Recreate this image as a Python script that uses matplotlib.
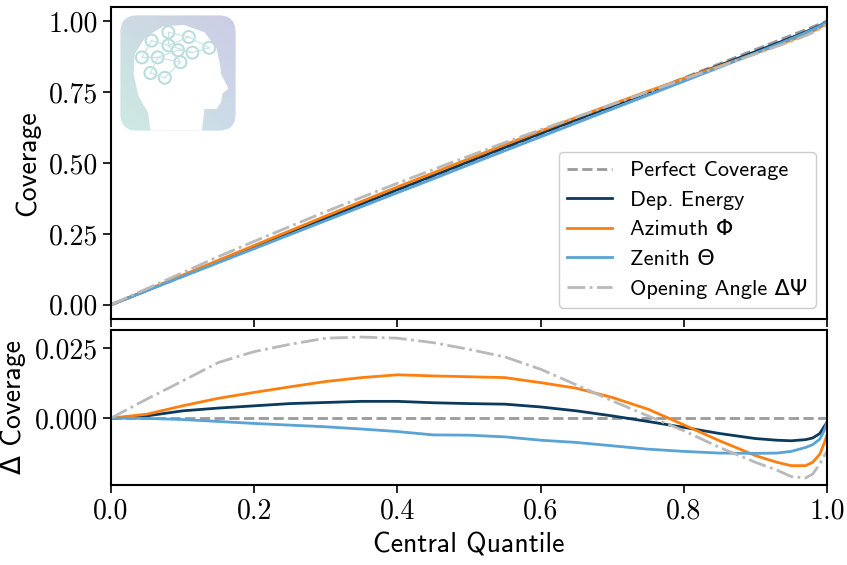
import numpy as np
import matplotlib
matplotlib.use("Agg")
import matplotlib.pyplot as plt
from matplotlib.patches import FancyBboxPatch, Polygon, Circle

plt.rcParams['mathtext.fontset'] = 'cm'
plt.rcParams['axes.formatter.use_mathtext'] = True

# ---------------- data ----------------
quantile = [0.0, 0.05, 0.10, 0.15, 0.20, 0.25, 0.30, 0.35, 0.40, 0.45, 0.50,
            0.55, 0.60, 0.65, 0.70, 0.75, 0.80, 0.85, 0.90, 0.93, 0.95,
            0.97, 0.98, 0.99, 0.996, 1.0]

delta_energy = [0.0, 0.0008, 0.0026, 0.0036, 0.0044, 0.0052, 0.0056, 0.0060,
                0.0060, 0.0055, 0.0052, 0.0050, 0.0040, 0.0026, 0.0008,
                -0.0012, -0.0033, -0.0055, -0.0073, -0.0079, -0.0081,
                -0.0077, -0.0071, -0.0055, -0.0030, -0.0015]

delta_azimuth = [0.0, 0.0014, 0.0044, 0.0071, 0.0092, 0.0112, 0.0131, 0.0145,
                 0.0155, 0.0151, 0.0148, 0.0145, 0.0127, 0.0107, 0.0074,
                 0.0032, -0.0024, -0.0081, -0.0134, -0.0158, -0.0170,
                 -0.0170, -0.0158, -0.0129, -0.0090, -0.0060]

delta_zenith = [0.0, -0.0001, -0.0005, -0.0012, -0.0019, -0.0025, -0.0031,
                -0.0039, -0.0048, -0.0060, -0.0061, -0.0067, -0.0079,
                -0.0087, -0.0099, -0.0111, -0.0119, -0.0125, -0.0126,
                -0.0125, -0.0119, -0.0105, -0.0095, -0.0075, -0.0045, -0.0015]

delta_opening = [0.0, 0.0068, 0.0133, 0.0199, 0.0238, 0.0264, 0.0286, 0.0290,
                 0.0286, 0.0270, 0.0246, 0.0219, 0.0175, 0.0119, 0.0062,
                 0.0008, -0.0045, -0.0105, -0.0158, -0.0186, -0.0209,
                 -0.0214, -0.0200, -0.0164, -0.0135, -0.0120]

labels = ['Perfect Coverage', 'Dep. Energy', 'Azimuth Φ', 'Zenith Θ',
          'Opening Angle ΔΨ']
colors = ['#9a9a9a', '#0b3a5c', '#ff7f0e', '#5aa3d5', '#b9b9b9']
styles = ['--', '-', '-', '-', '-.']

q = np.array(quantile)
deltas = [np.zeros_like(q), np.array(delta_energy), np.array(delta_azimuth),
          np.array(delta_zenith), np.array(delta_opening)]

SANS = ['cmss10', 'DejaVu Sans']
SERIF = 'cmr10'

L, R = 111 / 847, 827 / 847
fig = plt.figure(figsize=(8.47, 5.65), dpi=100)
ax1 = fig.add_axes([L, 0.4354, R - L, 0.9876 - 0.4354])
ax2 = fig.add_axes([L, 0.1416, R - L, 0.4159 - 0.1416], sharex=ax1)

for d, lab, c, ls in zip(deltas, labels, colors, styles):
    ax1.plot(q, q + d, ls, color=c, lw=2.0, label=lab)
    ax2.plot(q, d, ls, color=c, lw=2.0, label=lab)

ax1.set_xlim(0, 1)
ax1.set_yticks([0.0, 0.25, 0.5, 0.75, 1.0])
ax1.set_yticklabels(['0.00', '0.25', '0.50', '0.75', '1.00'])
ax2.set_yticks([0.0, 0.025])
ax2.set_yticklabels(['0.000', '0.025'])
ax2.set_xticks([0, 0.2, 0.4, 0.6, 0.8, 1.0])
ax2.set_xticklabels(['0.0', '0.2', '0.4', '0.6', '0.8', '1.0'])
plt.setp(ax1.get_xticklabels(), visible=False)

for ax in (ax1, ax2):
    ax.tick_params(direction='out', length=6, width=1.2, labelsize=20)
    for lab in ax.get_xticklabels() + ax.get_yticklabels():
        lab.set_fontfamily(SERIF)
    for s in ax.spines.values():
        s.set_linewidth(1.5)

ax1.set_ylabel('Coverage', family=SANS, fontsize=20, labelpad=6)
ax2.set_ylabel('Δ Coverage', family=SANS, fontsize=20, labelpad=6)
ax2.set_xlabel('Central Quantile', family=SANS, fontsize=20, labelpad=6)
fig.align_ylabels([ax1, ax2])

leg = ax1.legend(loc='lower right', prop={'family': SANS, 'size': 16},
                 fancybox=True, framealpha=1.0, edgecolor='#cccccc',
                 handlelength=2.0, handletextpad=0.8, labelspacing=0.45)

# ---------------- decorative logo ----------------
lax = fig.add_axes([118 / 847, 1 - 133 / 565, 120 / 847, 120 / 565])
lax.set_xlim(0, 1)
lax.set_ylim(0, 1)
lax.axis('off')
grad = np.zeros((50, 50, 3))
yy, xx = np.mgrid[0:1:50j, 0:1:50j]
c_tl = np.array([0.80, 0.86, 0.89])
c_tr = np.array([0.80, 0.80, 0.90])
c_bl = np.array([0.80, 0.92, 0.89])
c_br = np.array([0.80, 0.86, 0.91])
for k in range(3):
    grad[..., k] = (c_bl[k] * (1 - xx) * (1 - yy) + c_br[k] * xx * (1 - yy)
                    + c_tl[k] * (1 - xx) * yy + c_tr[k] * xx * yy)
box = FancyBboxPatch((0.02, 0.02), 0.96, 0.96,
                     boxstyle='round,pad=0,rounding_size=0.14',
                     transform=lax.transAxes, facecolor='none', edgecolor='none')
lax.add_patch(box)
im = lax.imshow(grad, extent=(0, 1, 0, 1), origin='lower', aspect='auto')
im.set_clip_path(box)
head = [(0.27, 0.02), (0.25, 0.17), (0.17, 0.31), (0.13, 0.49), (0.14, 0.66),
        (0.23, 0.80), (0.38, 0.89), (0.55, 0.90), (0.72, 0.84), (0.82, 0.71),
        (0.85, 0.57), (0.86, 0.49), (0.92, 0.37), (0.87, 0.33), (0.86, 0.26),
        (0.82, 0.20), (0.72, 0.20), (0.70, 0.02)]
lax.add_patch(Polygon(head, closed=True, facecolor='white', edgecolor='none'))
nodes = [(0.42, 0.84), (0.59, 0.80), (0.28, 0.77), (0.42, 0.73), (0.76, 0.71),
         (0.62, 0.67), (0.20, 0.63), (0.33, 0.63), (0.52, 0.59), (0.27, 0.50),
         (0.39, 0.46), (0.50, 0.69)]
edges = [(0, 1), (0, 3), (1, 3), (1, 4), (2, 3), (3, 5), (5, 4), (3, 8),
         (6, 7), (7, 8), (8, 10), (9, 10), (7, 9), (11, 5), (11, 7), (2, 6)]
for a, b in edges:
    lax.plot([nodes[a][0], nodes[b][0]], [nodes[a][1], nodes[b][1]],
             color='#c5e3e3', lw=0.8)
for (x, y) in nodes:
    lax.add_patch(Circle((x, y), 0.05, facecolor='white',
                         edgecolor='#b7dcdc', lw=1.4))

fig.savefig('out.png', dpi=100)
